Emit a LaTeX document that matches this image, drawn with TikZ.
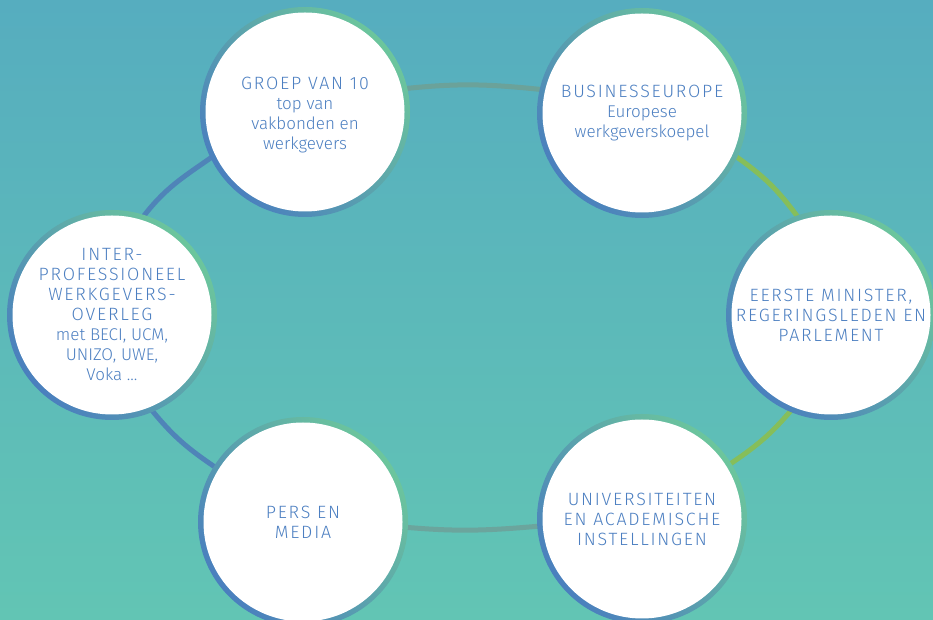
\documentclass[tikz,border=0pt]{standalone}
\usepackage{fontspec}
\setmainfont{Fira Sans Light}
\newfontfamily\capsf{Fira Sans Light}[LetterSpace=10]
\definecolor{bgtop}{HTML}{56ADBF}
\definecolor{bgbot}{HTML}{62C5B4}
\definecolor{ringblue}{HTML}{4A7FBE}
\definecolor{ringgreen}{HTML}{6CC69C}
\definecolor{txtblue}{HTML}{4C7FC1}
\definecolor{cblue}{HTML}{4F84B8}
\definecolor{ctop}{HTML}{6BA29A}
\definecolor{cgreen}{HTML}{86BE5A}
\definecolor{cbot}{HTML}{6BA59D}
\pgfdeclarelayer{back}
\pgfdeclarelayer{lines}
\pgfsetlayers{back,lines,main}
\newcommand{\capsline}[1]{{\capsf\fontsize{17.8}{20}\selectfont #1}}
\newcommand{\lowerby}[2]{\raisebox{-#1}[\height][\depth]{\begin{tabular}{@{}c@{}}#2\end{tabular}}}
\begin{document}
\begin{tikzpicture}[x=1pt,y=1pt,
  bubble/.style={circle, minimum size=210pt, inner sep=0pt,
    top color=ringblue, bottom color=ringgreen, shading angle=130,
    path picture={\fill[white] (path picture bounding box.center) circle (99.5pt);},
    text=txtblue, align=center, font=\fontsize{17}{20}\selectfont},
  conn/.style={line width=5pt, shorten <=-5pt, shorten >=-5pt}]
\useasboundingbox (0,0) rectangle (933,620);
\clip (0,0) rectangle (933,620);
\begin{pgfonlayer}{back}
\shade[top color=bgtop, bottom color=bgbot] (0,0) rectangle (933,620);
\end{pgfonlayer}
\node[bubble] (g) at (305,508) {\lowerby{4pt}{\capsline{GROEP VAN 10}\\top van\\vakbonden en\\werkgevers}};
\node[bubble] (b) at (642,507) {\capsline{BUSINESSEUROPE}\\Europese\\werkgeverskoepel};
\node[bubble] (e) at (831,305) {\lowerby{3pt}{\capsline{EERSTE MINISTER,}\\\capsline{REGERINGSLEDEN EN}\\\capsline{PARLEMENT}}};
\node[bubble] (i) at (112,305) {\capsline{INTER-}\\\capsline{PROFESSIONEEL}\\\capsline{WERKGEVERS-}\\\capsline{OVERLEG}\\met BECI, UCM,\\UNIZO, UWE,\\Voka ...};
\node[bubble] (p) at (303,98) {\capsline{PERS EN}\\\capsline{MEDIA}};
\node[bubble] (u) at (642,101) {\capsline{UNIVERSITEITEN}\\\capsline{EN ACADEMISCHE}\\\capsline{INSTELLINGEN}};
\begin{pgfonlayer}{lines}
\draw[conn, cblue] (g.206) to[out=215,in=53] (i.72);
\draw[conn, cblue] (i.-67) to[out=-51,in=146] (p.148);
\draw[conn, ctop] (g.13) to[out=6,in=174] (b.167);
\draw[conn, cgreen] (b.-25) to[out=-35,in=126] (e.109);
\draw[conn, cgreen] (e.247) to[out=230,in=34] (u.32);
\draw[conn, cbot] (p.-3) to[out=-5,in=185] (u.184);
\end{pgfonlayer}
\end{tikzpicture}
\end{document}
